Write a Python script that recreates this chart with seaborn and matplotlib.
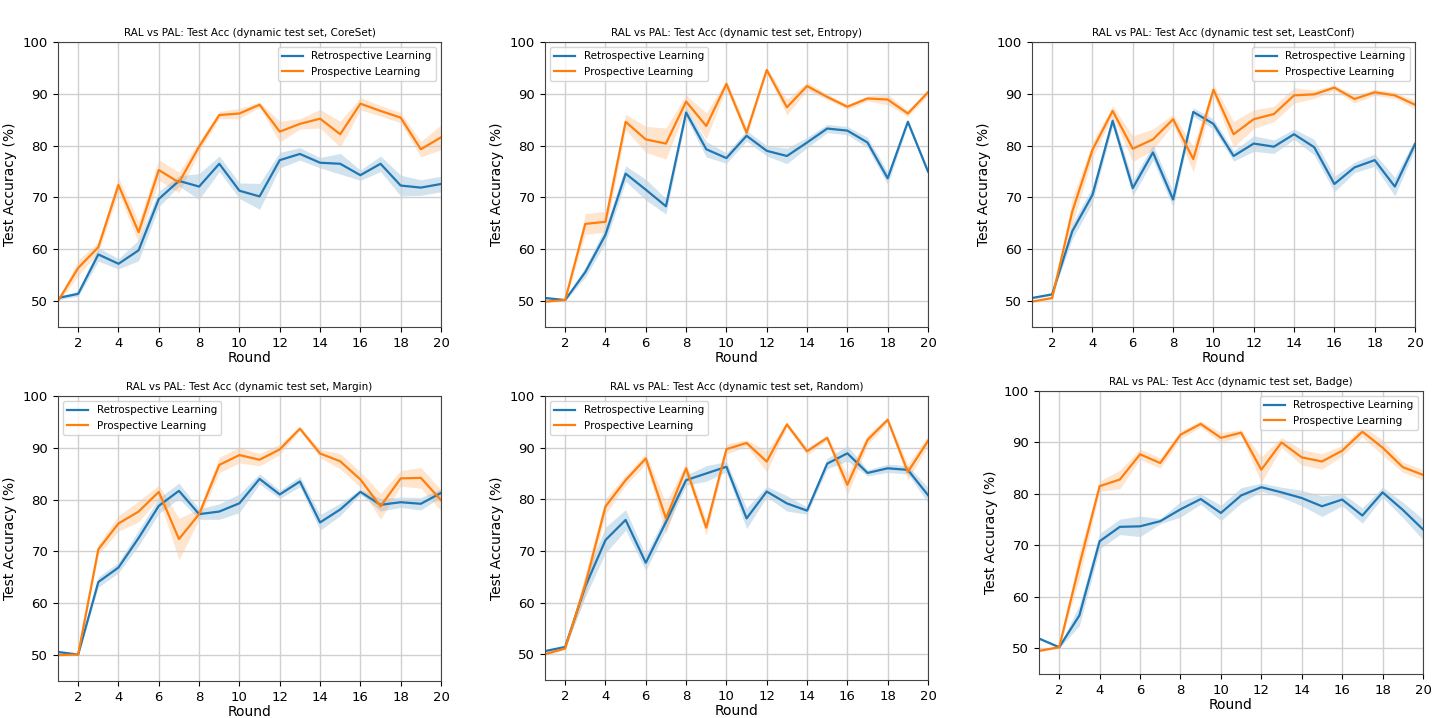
import numpy as np
import pandas as pd
import seaborn as sns
import matplotlib.pyplot as plt

rounds = list(range(1, 21))
methods = ["CoreSet", "Entropy", "LeastConf", "Margin", "Random", "Badge"]

# mean test accuracy per round
retro_coreset = [50.6, 51.4, 59.0, 57.2, 59.8, 69.7, 73.2, 72.1, 76.5, 71.3,
                 70.2, 77.2, 78.4, 76.7, 76.5, 74.3, 76.5, 72.3, 71.9, 72.6]
pro_coreset = [50.0, 56.4, 60.4, 72.4, 63.3, 75.3, 72.9, 79.8, 85.9, 86.2,
               87.9, 82.7, 84.2, 85.2, 82.2, 88.1, 86.7, 85.4, 79.3, 81.6]
retro_coreset_err = [0.3, 0.5, 1.3, 1.0, 2.0, 1.5, 1.0, 2.5, 1.5, 1.5,
                     2.5, 1.5, 1.2, 1.0, 2.0, 1.0, 1.5, 2.0, 1.5, 1.5]
pro_coreset_err = [0.3, 1.5, 1.0, 1.5, 2.0, 2.0, 2.0, 1.0, 0.7, 1.0,
                   0.5, 2.0, 1.0, 1.8, 2.5, 1.2, 1.0, 1.0, 1.5, 2.4]

retro_entropy = [50.6, 50.2, 55.6, 62.8, 74.6, 71.5, 68.3, 86.4, 79.3, 77.6,
                 81.9, 79.0, 78.0, 80.6, 83.3, 82.9, 80.6, 73.7, 84.6, 75.0]
pro_entropy = [49.9, 50.2, 64.9, 65.3, 84.6, 81.2, 80.4, 88.5, 83.8, 91.9,
               82.5, 94.6, 87.4, 91.5, 89.4, 87.5, 89.1, 88.9, 86.2, 90.3]
retro_entropy_err = [0.2, 0.2, 1.0, 1.5, 1.5, 2.0, 1.5, 1.0, 1.5, 1.0,
                     1.0, 1.0, 1.5, 1.0, 0.8, 0.8, 1.0, 1.2, 0.5, 0.5]
pro_entropy_err = [0.2, 0.2, 2.0, 2.0, 1.5, 2.5, 3.0, 1.3, 2.5, 0.8,
                   1.0, 0.5, 1.5, 0.8, 0.5, 0.5, 0.5, 1.0, 0.6, 0.6]

retro_leastconf = [50.6, 51.3, 63.5, 70.5, 84.8, 71.8, 78.7, 69.6, 86.5, 84.2,
                   78.0, 80.4, 79.8, 82.2, 79.7, 72.6, 75.8, 77.2, 72.1, 80.3]
pro_leastconf = [49.9, 50.6, 67.3, 79.2, 86.7, 79.4, 81.2, 85.1, 77.4, 90.8,
                 82.2, 85.1, 86.1, 89.7, 89.9, 91.2, 89.0, 90.3, 89.7, 87.9]
retro_leastconf_err = [0.2, 0.2, 1.5, 1.5, 1.0, 1.5, 1.5, 1.5, 0.8, 1.0,
                       1.0, 1.5, 1.3, 1.0, 1.5, 1.5, 1.0, 1.2, 1.8, 1.0]
pro_leastconf_err = [0.2, 0.2, 2.5, 1.5, 1.0, 2.5, 2.0, 1.0, 2.5, 1.0,
                     2.5, 1.8, 1.5, 1.5, 0.8, 0.5, 0.8, 0.6, 0.6, 0.8]

retro_margin = [50.6, 50.1, 64.1, 66.9, 72.6, 78.8, 81.7, 77.2, 77.7, 79.3,
                84.0, 81.0, 83.5, 75.6, 78.1, 81.5, 79.0, 79.5, 79.2, 81.3]
pro_margin = [50.0, 50.1, 70.4, 75.4, 77.7, 81.5, 72.4, 77.2, 86.7, 88.6,
              87.7, 89.7, 93.7, 88.9, 87.4, 83.9, 78.7, 84.1, 84.2, 79.9]
retro_margin_err = [0.2, 0.2, 1.0, 1.0, 1.5, 1.5, 1.5, 1.0, 1.5, 1.8,
                    1.0, 0.8, 1.0, 1.5, 1.2, 0.5, 1.2, 1.0, 1.2, 0.8]
pro_margin_err = [0.2, 0.2, 1.0, 1.5, 2.0, 1.3, 4.0, 1.0, 1.5, 1.5,
                  1.2, 1.0, 0.4, 0.8, 1.5, 1.5, 2.5, 1.5, 2.0, 2.0]

retro_random = [50.6, 51.4, 63.1, 72.1, 76.0, 67.7, 75.6, 83.7, 85.0, 86.3,
                76.3, 81.5, 79.2, 77.8, 86.9, 88.9, 85.1, 86.0, 85.7, 80.8]
pro_random = [50.0, 51.1, 63.5, 78.6, 83.7, 87.9, 76.3, 86.0, 74.5, 89.7,
              90.9, 87.3, 94.5, 89.3, 91.9, 82.8, 91.5, 95.4, 85.3, 91.3]
retro_random_err = [0.2, 0.2, 2.0, 2.5, 2.0, 1.5, 1.5, 1.0, 1.5, 1.0,
                    2.0, 1.0, 1.5, 0.7, 1.0, 1.5, 0.6, 0.8, 0.8, 1.5]
pro_random_err = [0.2, 0.2, 2.0, 1.5, 1.0, 1.0, 3.0, 1.0, 1.5, 1.0,
                  0.6, 2.0, 0.5, 0.7, 0.5, 2.0, 1.0, 0.5, 1.5, 1.0]

retro_badge = [51.9, 50.2, 56.4, 70.8, 73.6, 73.7, 74.7, 77.0, 79.0, 76.3,
               79.7, 81.3, 80.3, 79.2, 77.6, 78.9, 75.8, 80.3, 76.9, 73.1]
pro_badge = [49.5, 50.2, 66.2, 81.5, 82.8, 87.7, 86.0, 91.5, 93.6, 90.9,
             91.9, 84.7, 90.0, 87.1, 86.3, 88.4, 92.1, 89.0, 85.2, 83.7]
retro_badge_err = [0.2, 0.2, 2.0, 1.5, 1.5, 2.0, 0.5, 1.5, 1.0, 1.5,
                   1.5, 0.8, 1.0, 1.5, 2.0, 1.2, 1.5, 1.0, 1.5, 2.0]
pro_badge_err = [0.2, 0.2, 2.5, 1.0, 1.8, 1.0, 1.0, 0.8, 0.6, 1.0,
                 0.6, 2.5, 1.0, 1.5, 1.5, 1.0, 1.0, 1.5, 1.0, 1.0]

retro_all = [retro_coreset, retro_entropy, retro_leastconf, retro_margin, retro_random, retro_badge]
pro_all = [pro_coreset, pro_entropy, pro_leastconf, pro_margin, pro_random, pro_badge]
retro_err_all = [retro_coreset_err, retro_entropy_err, retro_leastconf_err,
                 retro_margin_err, retro_random_err, retro_badge_err]
pro_err_all = [pro_coreset_err, pro_entropy_err, pro_leastconf_err,
               pro_margin_err, pro_random_err, pro_badge_err]

# axes boxes in pixels (left, top, right, bottom), each panel was a separate screenshot
boxes = [(58, 42, 441, 327), (545, 42, 928, 327), (1032, 42, 1415, 327),
         (58, 396, 441, 681), (545, 396, 928, 680), (1039, 391, 1423, 674)]
legend_locs = ["upper right", "upper left", "upper right",
               "upper left", "upper left", "upper right"]

W, H = 1440, 718
fig = plt.figure(figsize=(W / 100, H / 100), dpi=100)
blue, orange = "#1f77b4", "#ff7f0e"
lab_r, lab_p = "Retrospective Learning", "Prospective Learning"

for i, m in enumerate(methods):
    l, t, r, b = boxes[i]
    ax = fig.add_axes([l / W, 1 - b / H, (r - l) / W, (b - t) / H])
    df = pd.DataFrame({
        "Round": rounds * 2,
        "Acc": retro_all[i] + pro_all[i],
        "Method": [lab_r] * 20 + [lab_p] * 20,
    })
    sns.lineplot(data=df, x="Round", y="Acc", hue="Method", ax=ax,
                 palette={lab_r: blue, lab_p: orange}, linewidth=1.6, errorbar=None)
    rm, pm = np.array(retro_all[i]), np.array(pro_all[i])
    re, pe = np.array(retro_err_all[i]), np.array(pro_err_all[i])
    ax.fill_between(rounds, rm - re, rm + re, color=blue, alpha=0.2, linewidth=0)
    ax.fill_between(rounds, pm - pe, pm + pe, color=orange, alpha=0.2, linewidth=0)
    ax.set_xlim(1, 20)
    ax.set_ylim(45, 100)
    ax.set_xticks(range(2, 21, 2))
    ax.set_yticks(range(50, 101, 10))
    ax.grid(True, color="#d0d0d0", linewidth=1.0)
    ax.tick_params(labelsize=9.5)
    ax.set_xlabel("Round", fontsize=10, labelpad=1)
    ax.set_ylabel("Test Accuracy (%)", fontsize=10)
    ax.set_title(f"RAL vs PAL: Test Acc (dynamic test set, {m})", fontsize=7.5, pad=4)
    for s in ax.spines.values():
        s.set_color("#444444")
    ax.legend(title=None, loc=legend_locs[i], fontsize=7.5)

fig.savefig("out.png", dpi=100)
